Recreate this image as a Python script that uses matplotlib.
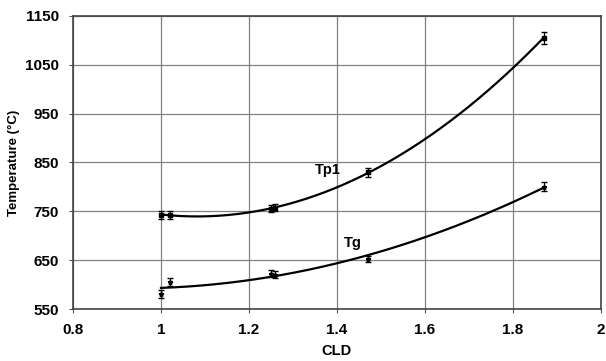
import numpy as np
import matplotlib.pyplot as plt

plt.rcParams['font.family'] = ['Liberation Sans', 'DejaVu Sans']
plt.rcParams['font.weight'] = 'bold'

cld = [1.0, 1.02, 1.25, 1.26, 1.47, 1.87]
tp1 = [743, 743, 755, 757, 830, 1105]
tp1_err = [8, 8, 7, 7, 9, 12]
tg = [580, 605, 622, 620, 652, 800]
tg_err = [8, 8, 7, 7, 6, 9]

xticks = [0.8, 1.0, 1.2, 1.4, 1.6, 1.8, 2.0]
xticklabels = ["0.8", "1", "1.2", "1.4", "1.6", "1.8", "2"]
yticks = [550, 650, 750, 850, 950, 1050, 1150]

fig = plt.figure(figsize=(6.06, 3.61), dpi=100)
ax = fig.add_axes([0.1205, 0.144, 0.871, 0.812])

for y in yticks:
    ax.axhline(y, color="#808080", lw=0.9, zorder=0)
for x in xticks:
    ax.axvline(x, color="#808080", lw=0.9, zorder=0)

# second order trendlines
xs = np.linspace(1.0, 1.87, 200)
for vals in (tp1, tg):
    c = np.polyfit(cld, vals, 2)
    ax.plot(xs, np.polyval(c, xs), color="black", lw=1.6, zorder=2)

ax.errorbar(cld, tp1, yerr=tp1_err, fmt="s", ms=3.5, color="black",
            ecolor="black", elinewidth=0.9, capsize=2.5, zorder=3)
ax.errorbar(cld, tg, yerr=tg_err, fmt="*", ms=3.5, color="black",
            ecolor="black", elinewidth=0.9, capsize=2, zorder=3)

ax.text(1.38, 835, "Tp1", fontsize=10.5, fontweight="bold", ha="center", va="center")
ax.text(1.435, 686, "Tg", fontsize=10.5, fontweight="bold", ha="center", va="center")

ax.set_xlim(0.8, 2.0)
ax.set_ylim(550, 1150)
ax.set_xticks(xticks)
ax.set_xticklabels(xticklabels)
ax.set_yticks(yticks)
ax.tick_params(labelsize=11, length=3, color="#555555", pad=7)
for s in ax.spines.values():
    s.set_color("#444444")
    s.set_linewidth(1.2)

ax.set_xlabel("CLD", fontsize=10.5, fontweight="bold", labelpad=5)
ax.set_ylabel("Temperature (\u00b0C)", fontsize=9.5, fontweight="bold", labelpad=4)

fig.savefig("out.png", dpi=100)
